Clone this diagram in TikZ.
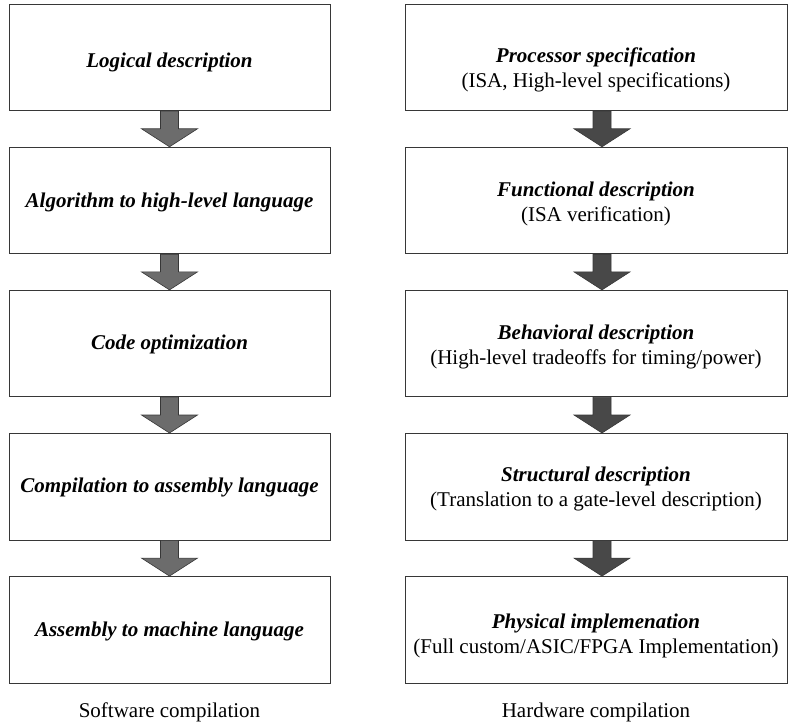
\documentclass[tikz,border=0pt]{standalone}
\usepackage{fontspec}
\setmainfont{Liberation Serif}
\usetikzlibrary{positioning,calc}
\definecolor{swgray}{RGB}{108,108,108}
\definecolor{hwgray}{RGB}{72,72,72}
\definecolor{edgegray}{RGB}{55,55,55}

\tikzset{
  stage/.style={draw=edgegray, line width=0.9pt, minimum height=106.5pt},
  swstage/.style={stage, minimum width=321pt},
  hwstage/.style={stage, minimum width=382pt},
  stagetext/.style={align=center, inner sep=0pt, font=\fontsize{21}{25}\selectfont},
  caption/.style={font=\fontsize{21}{25}\selectfont},
  blockarrow/.style={draw=edgegray, line width=0.6pt, fill=#1}
}

% fat arrow between two stages: [x offset]{fill}{from}{to}
\newcommand{\flowarrow}[4][0]{%
  \draw[blockarrow=#2] ($(#3.south)+(#1-9,0)$) -- ($(#3.south)+(#1+9,0)$)
    -- ($(#4.north)+(#1+9,18)$) -- ($(#4.north)+(#1+28,18)$) -- ($(#4.north)+(#1,0)$)
    -- ($(#4.north)+(#1-28,18)$) -- ($(#4.north)+(#1-9,18)$) -- cycle;}

\begin{document}
\begin{tikzpicture}[x=1pt, y=1pt]
  \useasboundingbox (0,0) rectangle (788,-725);

  % Software column
  \node[swstage] (sw1) at (169.5,-57.4) {};
  \node[swstage, below=35.7pt of sw1] (sw2) {};
  \node[swstage, below=35.7pt of sw2] (sw3) {};
  \node[swstage, below=35.7pt of sw3] (sw4) {};
  \node[swstage, below=35.7pt of sw4] (sw5) {};
  \node[stagetext, yshift=-5pt] (sw1t) at (sw1) {\textbf{\textit{Logical description}}};
  \node[stagetext, yshift=-2pt] (sw2t) at (sw2) {\textbf{\textit{Algorithm to high-level language}}};
  \node[stagetext, yshift=-1pt] (sw3t) at (sw3) {\textbf{\textit{Code optimization}}};
  \node[stagetext, yshift=-1pt] (sw4t) at (sw4) {\textbf{\textit{Compilation to assembly language}}};
  \node[stagetext, yshift=-2pt] (sw5t) at (sw5) {\textbf{\textit{Assembly to machine language}}};
  \node[caption] (swcap) at (169.5,-712) {Software compilation};

  % Hardware column
  \node[hwstage] (hw1) at (596,-57.4) {};
  \node[hwstage, below=35.7pt of hw1] (hw2) {};
  \node[hwstage, below=35.7pt of hw2] (hw3) {};
  \node[hwstage, below=35.7pt of hw3] (hw4) {};
  \node[hwstage, below=35.7pt of hw4] (hw5) {};
  \node[stagetext, yshift=-12pt] (hw1t) at (hw1) {\textbf{\textit{Processor specification}}\\(ISA, High-level specifications)};
  \node[stagetext, yshift=-3pt] (hw2t) at (hw2) {\textbf{\textit{Functional description}}\\(ISA verification)};
  \node[stagetext, yshift=-3pt] (hw3t) at (hw3) {\textbf{\textit{Behavioral description}}\\(High-level tradeoffs for timing/power)};
  \node[stagetext, yshift=-2.5pt] (hw4t) at (hw4) {\textbf{\textit{Structural description}}\\(Translation to a gate-level description)};
  \node[stagetext, yshift=-6pt] (hw5t) at (hw5) {\textbf{\textit{Physical implemenation}}\\(Full custom/ASIC/FPGA Implementation)};
  \node[caption] (hwcap) at (596,-712) {Hardware compilation};

  % Arrows
  \flowarrow{swgray}{sw1}{sw2}
  \flowarrow{swgray}{sw2}{sw3}
  \flowarrow{swgray}{sw3}{sw4}
  \flowarrow{swgray}{sw4}{sw5}
  \flowarrow[6]{hwgray}{hw1}{hw2}
  \flowarrow[6]{hwgray}{hw2}{hw3}
  \flowarrow[6]{hwgray}{hw3}{hw4}
  \flowarrow[6]{hwgray}{hw4}{hw5}
\end{tikzpicture}
\end{document}
